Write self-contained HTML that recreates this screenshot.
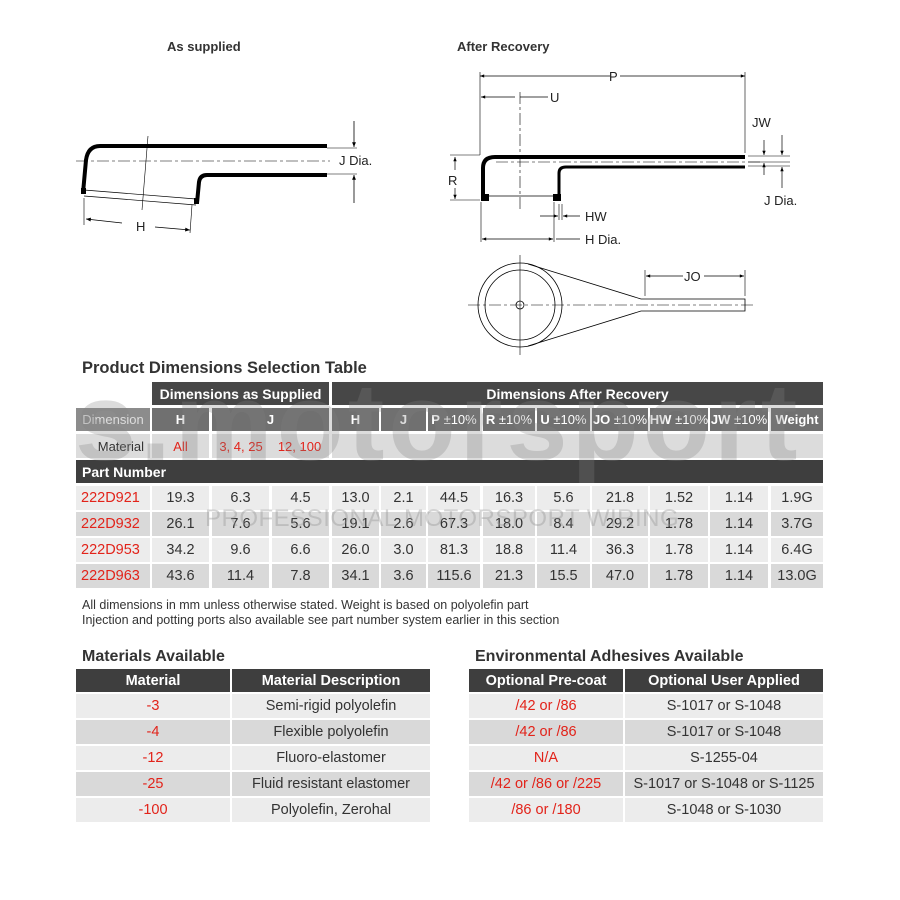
<!DOCTYPE html>
<html><head><meta charset="utf-8"><style>
body{margin:0;background:#fff;font-family:"Liberation Sans",Arial,sans-serif;}
#c{position:relative;width:900px;height:900px;overflow:hidden;background:#fff}
.t{position:absolute;display:flex;align-items:center;justify-content:center;font-size:14px;color:#333;box-sizing:border-box;white-space:nowrap}
.h{color:#fff;font-weight:bold}
.r{color:#e2231a}
.ttl{position:absolute;font-weight:bold;color:#333;font-size:15.5px}
</style></head><body><div id="c">
<svg width="900" height="360" style="position:absolute;left:0;top:0" font-family="Liberation Sans, Arial, sans-serif">
<defs><marker id="a" viewBox="0 0 10 10" refX="10" refY="5" markerWidth="8" markerHeight="6" orient="auto-start-reverse"><path d="M0,1L10,5L0,9z" fill="#000"/></marker></defs>
<text x="167" y="51" font-size="13" font-weight="bold" fill="#333">As supplied</text>
<text x="457" y="51" font-size="13" font-weight="bold" fill="#333">After Recovery</text>
<g stroke="#000" fill="none">
<path d="M83,193 L86,160 Q88,146 100,146 L327,146" stroke-width="4"/>
<path d="M197,203 L199,182 Q200,175 207,175 L327,175" stroke-width="4"/>
<line x1="84" y1="190" x2="196" y2="199" stroke-width="0.7"/>
<line x1="84" y1="196" x2="196" y2="205" stroke-width="0.7"/>
<line x1="76" y1="161" x2="330" y2="161" stroke-width="0.6" stroke-dasharray="12,3,3,3"/>
<line x1="148" y1="136" x2="142" y2="210" stroke-width="0.6"/>
<line x1="327" y1="148" x2="357" y2="148" stroke-width="0.6"/>
<line x1="327" y1="174" x2="357" y2="174" stroke-width="0.6"/>
<line x1="354" y1="121" x2="354" y2="147" stroke-width="0.8" marker-end="url(#a)"/>
<line x1="354" y1="203" x2="354" y2="175" stroke-width="0.8" marker-end="url(#a)"/>
<line x1="84" y1="198" x2="84" y2="225" stroke-width="0.6"/>
<line x1="192" y1="205" x2="190" y2="233" stroke-width="0.6"/>
<line x1="122" y1="223" x2="86" y2="219" stroke-width="0.8" marker-end="url(#a)"/>
<line x1="155" y1="227" x2="190" y2="230" stroke-width="0.8" marker-end="url(#a)"/>
</g>
<rect x="81" y="188" width="5" height="6" fill="#000"/><rect x="194" y="198" width="5" height="6" fill="#000"/>
<text x="339" y="165" font-size="13" fill="#222">J Dia.</text>
<text x="136" y="231" font-size="13" fill="#222">H</text>
<g stroke="#000" fill="none">
<path d="M483,200 L483,168 Q483,157 495,157 L745,157" stroke-width="4"/>
<path d="M559,200 L559,173 Q559,167 566,167 L745,167" stroke-width="3"/>
<line x1="496" y1="162" x2="760" y2="162" stroke-width="0.6" stroke-dasharray="12,3,3,3"/>
<line x1="485" y1="196" x2="557" y2="196" stroke-width="0.7"/>
<line x1="520" y1="92" x2="520" y2="212" stroke-width="0.6" stroke-dasharray="12,3,3,3"/>
<line x1="480" y1="72" x2="480" y2="155" stroke-width="0.6"/>
<line x1="745" y1="72" x2="745" y2="153" stroke-width="0.6"/>
<line x1="480" y1="76" x2="610" y2="76" stroke-width="0.7" marker-start="url(#a)"/>
<line x1="620" y1="76" x2="745" y2="76" stroke-width="0.7" marker-end="url(#a)"/>
<line x1="481" y1="97" x2="515" y2="97" stroke-width="0.7" marker-start="url(#a)"/>
<line x1="520" y1="97" x2="548" y2="97" stroke-width="0.7"/>
<line x1="450" y1="155" x2="480" y2="155" stroke-width="0.6"/>
<line x1="450" y1="200" x2="480" y2="200" stroke-width="0.6"/>
<line x1="455" y1="157" x2="455" y2="170" stroke-width="0.7" marker-start="url(#a)"/>
<line x1="455" y1="188" x2="455" y2="199" stroke-width="0.7" marker-end="url(#a)"/>
<line x1="481" y1="202" x2="481" y2="242" stroke-width="0.6"/>
<line x1="554" y1="202" x2="554" y2="242" stroke-width="0.6"/>
<line x1="482" y1="239" x2="553" y2="239" stroke-width="0.7" marker-start="url(#a)" marker-end="url(#a)"/>
<line x1="556" y1="239" x2="580" y2="239" stroke-width="0.7"/>
<line x1="559" y1="204" x2="559" y2="220" stroke-width="0.6"/><line x1="562" y1="204" x2="562" y2="220" stroke-width="0.6"/>
<line x1="540" y1="216" x2="558" y2="216" stroke-width="0.7" marker-end="url(#a)"/>
<line x1="580" y1="216" x2="563" y2="216" stroke-width="0.7" marker-end="url(#a)"/>
<line x1="748" y1="156" x2="790" y2="156" stroke-width="0.6"/>
<line x1="748" y1="162" x2="790" y2="162" stroke-width="0.6"/>
<line x1="748" y1="166" x2="790" y2="166" stroke-width="0.6"/>
<line x1="764" y1="140" x2="764" y2="155" stroke-width="0.7" marker-end="url(#a)"/>
<line x1="764" y1="175" x2="764" y2="163" stroke-width="0.7" marker-end="url(#a)"/>
<line x1="782" y1="135" x2="782" y2="155" stroke-width="0.7" marker-end="url(#a)"/>
<line x1="782" y1="188" x2="782" y2="167" stroke-width="0.7" marker-end="url(#a)"/>
<circle cx="520" cy="305" r="42" stroke-width="0.8"/>
<circle cx="520" cy="305" r="35" stroke-width="0.8"/>
<circle cx="520" cy="305" r="4" stroke-width="0.8"/>
<line x1="468" y1="305" x2="755" y2="305" stroke-width="0.6" stroke-dasharray="12,3,3,3"/>
<line x1="520" y1="255" x2="520" y2="355" stroke-width="0.6"/>
<path d="M528,264 L641,299 L745,299 L745,311 L641,311 L528,346" stroke-width="0.8"/>
<line x1="645" y1="270" x2="645" y2="296" stroke-width="0.6"/>
<line x1="745" y1="270" x2="745" y2="296" stroke-width="0.6"/>
<line x1="646" y1="276" x2="683" y2="276" stroke-width="0.7" marker-start="url(#a)"/>
<line x1="704" y1="276" x2="744" y2="276" stroke-width="0.7" marker-end="url(#a)"/>
</g>
<rect x="481" y="194" width="8" height="7" fill="#000"/><rect x="553" y="194" width="8" height="7" fill="#000"/>
<text x="609" y="81" font-size="13" fill="#222">P</text>
<text x="550" y="102" font-size="13" fill="#222">U</text>
<text x="448" y="185" font-size="13" fill="#222">R</text>
<text x="752" y="127" font-size="13" fill="#222">JW</text>
<text x="764" y="205" font-size="13" fill="#222">J Dia.</text>
<text x="585" y="221" font-size="13" fill="#222">HW</text>
<text x="585" y="244" font-size="13" fill="#222">H Dia.</text>
<text x="684" y="281" font-size="13" fill="#222">JO</text>
</svg>

<div class="ttl" style="left:82px;top:359px;font-size:16.5px">Product Dimensions Selection Table</div>
<div class="t h" style="left:152px;top:382px;width:177px;height:23px;background:#474747">Dimensions as Supplied</div>
<div class="t h" style="left:332px;top:382px;width:491px;height:23px;background:#474747">Dimensions After Recovery</div>
<div class="t" style="left:76px;top:408px;width:74px;height:23px;background:#8c8c8c;color:#ddd;font-size:13px">Dimension</div>
<div class="t h" style="left:152px;top:408px;width:57px;height:23px;background:#707070;font-size:13px">H</div>
<div class="t h" style="left:212px;top:408px;width:117px;height:23px;background:#707070;font-size:13px">J</div>
<div class="t h" style="left:332px;top:408px;width:47px;height:23px;background:#707070;font-size:13px">H</div>
<div class="t h" style="left:381px;top:408px;width:45px;height:23px;background:#707070;font-size:13px">J</div>
<div class="t h" style="left:428px;top:408px;width:52px;height:23px;background:#707070;font-size:13px">P&nbsp;<span style="font-weight:normal">±10%</span></div>
<div class="t h" style="left:483px;top:408px;width:52px;height:23px;background:#707070;font-size:13px">R&nbsp;<span style="font-weight:normal">±10%</span></div>
<div class="t h" style="left:537px;top:408px;width:53px;height:23px;background:#707070;font-size:13px">U&nbsp;<span style="font-weight:normal">±10%</span></div>
<div class="t h" style="left:592px;top:408px;width:56px;height:23px;background:#707070;font-size:13px">JO&nbsp;<span style="font-weight:normal">±10%</span></div>
<div class="t h" style="left:650px;top:408px;width:58px;height:23px;background:#707070;font-size:13px">HW&nbsp;<span style="font-weight:normal">±10%</span></div>
<div class="t h" style="left:710px;top:408px;width:58px;height:23px;background:#707070;font-size:13px">JW&nbsp;<span style="font-weight:normal">±10%</span></div>
<div class="t h" style="left:771px;top:408px;width:52px;height:23px;background:#707070;font-size:13px">Weight</div>
<div class="t" style="left:76px;top:434px;width:74px;height:24px;background:#dcdcdc;justify-content:flex-end;padding-right:6px;font-size:13px">Material</div>
<div class="t r" style="left:152px;top:434px;width:57px;height:24px;background:#dcdcdc;font-size:13px">All</div>
<div class="t r" style="left:212px;top:434px;width:58px;height:24px;background:#dcdcdc;font-size:13px">3, 4, 25</div>
<div class="t r" style="left:270px;top:434px;width:59px;height:24px;background:#dcdcdc;font-size:13px">12, 100</div>
<div class="t" style="left:332px;top:434px;width:491px;height:24px;background:#dcdcdc"></div>
<div class="t h" style="left:76px;top:460px;width:747px;height:23px;background:#3e3e3e;justify-content:flex-start;padding-left:6px;font-size:14px">Part Number</div>
<div style="position:absolute;left:75px;top:368px;font-size:110px;font-weight:bold;color:rgba(130,130,130,0.28);letter-spacing:4px;line-height:1">s.motorsport</div>

<div id="rows"></div>
<div style="position:absolute;left:82px;top:598px;font-size:12.5px;color:#333;line-height:15px">All dimensions in mm unless otherwise stated. Weight is based on polyolefin part<br>Injection and potting ports also available see part number system earlier in this section</div>

<div class="ttl" style="left:82px;top:648px;font-size:16px">Materials Available</div>
<div class="ttl" style="left:475px;top:648px;font-size:16px">Environmental Adhesives Available</div>
<div id="bt"></div>
<div style="position:absolute;left:205px;top:505px;font-size:24px;color:rgba(150,150,150,0.4);letter-spacing:0.5px">PROFESSIONAL MOTORSPORT WIRING</div>
<script>
var cols=[[76,74],[152,57],[212,57],[272,57],[332,47],[381,45],[428,52],[483,52],[537,53],[592,56],[650,58],[710,58],[771,52]];
var data=[["222D921","19.3","6.3","4.5","13.0","2.1","44.5","16.3","5.6","21.8","1.52","1.14","1.9G"],
["222D932","26.1","7.6","5.6","19.1","2.6","67.3","18.0","8.4","29.2","1.78","1.14","3.7G"],
["222D953","34.2","9.6","6.6","26.0","3.0","81.3","18.8","11.4","36.3","1.78","1.14","6.4G"],
["222D963","43.6","11.4","7.8","34.1","3.6","115.6","21.3","15.5","47.0","1.78","1.14","13.0G"]];
var ys=[486,512,538,564],h="";
data.forEach(function(r,i){r.forEach(function(v,j){var bg=i%2?"#d9d9d9":"#ececec";
h+='<div class="t'+(j==0?' r':'')+'" style="left:'+cols[j][0]+'px;top:'+ys[i]+'px;width:'+cols[j][1]+'px;height:24px;font-size:14.5px;background:'+bg+';'+(j==0?'justify-content:flex-start;padding-left:5px;':'')+'">'+v+'</div>';});});
document.getElementById('rows').innerHTML=h;
var m=[["-3","Semi-rigid polyolefin"],["-4","Flexible polyolefin"],["-12","Fluoro-elastomer"],["-25","Fluid resistant elastomer"],["-100","Polyolefin, Zerohal"]];
var e=[["/42 or /86","S-1017 or S-1048"],["/42 or /86","S-1017 or S-1048"],["N/A","S-1255-04"],["/42 or /86 or /225","S-1017 or S-1048 or S-1125"],["/86 or /180","S-1048 or S-1030"]];
var b="";
function tbl(x,s,hd,d,w1,w2){b+='<div class="t h" style="left:'+x+'px;top:669px;width:'+w1+'px;height:23px;font-size:14.5px;background:#3e3e3e">'+hd[0]+'</div>';
b+='<div class="t h" style="left:'+s+'px;top:669px;width:'+w2+'px;height:23px;font-size:14.5px;background:#3e3e3e">'+hd[1]+'</div>';
d.forEach(function(r,i){var y=694+26*i,bg=i%2?"#d9d9d9":"#ececec";
b+='<div class="t r" style="left:'+x+'px;top:'+y+'px;width:'+w1+'px;height:24px;font-size:14.5px;background:'+bg+'">'+r[0]+'</div>';
b+='<div class="t" style="left:'+s+'px;top:'+y+'px;width:'+w2+'px;height:24px;font-size:14.5px;background:'+bg+'">'+r[1]+'</div>';});}
tbl(76,232,["Material","Material Description"],m,154,198);
tbl(469,625,["Optional Pre-coat","Optional User Applied"],e,154,198);
document.getElementById('bt').innerHTML=b;
</script>
</div></body></html>
